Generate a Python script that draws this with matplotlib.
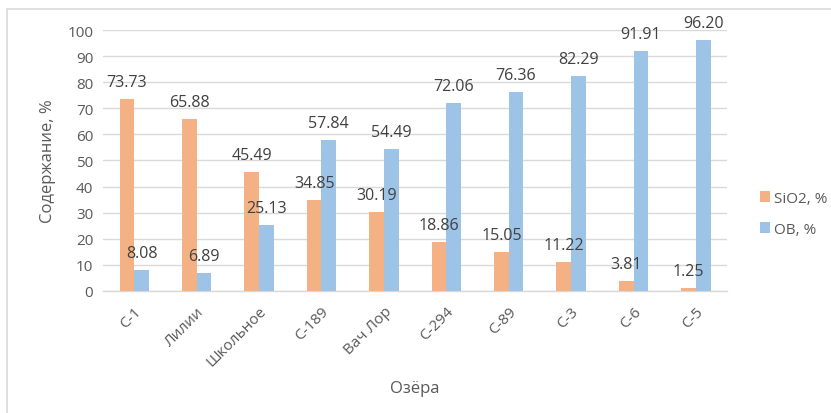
import numpy as np
import matplotlib.pyplot as plt
from matplotlib.patches import Rectangle

plt.rcParams['font.family'] = ['Open Sans', 'DejaVu Sans']

# озёра и содержание
lakes = ["С-1", "Лилии", "Школьное", "С-189", "Вач Лор", "С-294", "С-89", "С-3", "С-6", "С-5"]
sio2 = [73.73, 65.88, 45.49, 34.85, 30.19, 18.86, 15.05, 11.22, 3.81, 1.25]
ob = [8.08, 6.89, 25.13, 57.84, 54.49, 72.06, 76.36, 82.29, 91.91, 96.20]

c_sio2 = "#F4B183"
c_ob = "#9DC3E6"
txt = "#595959"

fig = plt.figure(figsize=(8.31, 4.14), dpi=100)
ax = fig.add_axes([0.124, 0.295, 0.751, 0.63])

# рамка вокруг диаграммы
fig.patches.append(Rectangle((7 / 831, -0.2), 1.2, 1 - 10 / 414 + 0.2,
                             transform=fig.transFigure, fill=False,
                             edgecolor="#d9d9d9", linewidth=1.2))

x = np.arange(len(lakes))
w = 0.235
b1 = ax.bar(x - w / 2, sio2, w, color=c_sio2, label="SiO2, %", zorder=3)
b2 = ax.bar(x + w / 2, ob, w, color=c_ob, label="OB, %", zorder=3)

for bars, vals in ((b1, sio2), (b2, ob)):
    for r, v in zip(bars, vals):
        ax.annotate(f"{v:.2f}", (r.get_x() + r.get_width() / 2, v),
                    xytext=(0, 6.5), textcoords="offset points",
                    ha="center", va="bottom", fontsize=11.5, color="#404040", zorder=4)

ax.set_xlim(-0.5, len(lakes) - 0.5)
ax.set_ylim(0, 100)
ax.set_yticks(range(0, 101, 10))
ax.yaxis.grid(True, color="#d9d9d9", linewidth=1, zorder=0)
ax.set_axisbelow(True)
for s in ("top", "right", "left"):
    ax.spines[s].set_visible(False)
ax.spines["bottom"].set_color("#d9d9d9")
ax.spines["bottom"].set_linewidth(1)
ax.tick_params(length=0, labelsize=11, labelcolor=txt)
ax.tick_params(axis="y", pad=7)
ax.set_xticks(x)
ax.set_xticklabels(lakes, rotation=45, ha="right", rotation_mode="anchor")
ax.tick_params(axis="x", pad=9)

ax.set_ylabel("Содержание, %", fontsize=12, color=txt, labelpad=8)
ax.set_xlabel("Озёра", fontsize=12, color=txt, labelpad=8)

ax.legend(loc="center left", bbox_to_anchor=(1.03, 0.295), frameon=False,
          fontsize=11, labelcolor=txt, handlelength=0.7, handleheight=0.7,
          handletextpad=0.25, labelspacing=1.05)

fig.savefig("out.png", dpi=100)
